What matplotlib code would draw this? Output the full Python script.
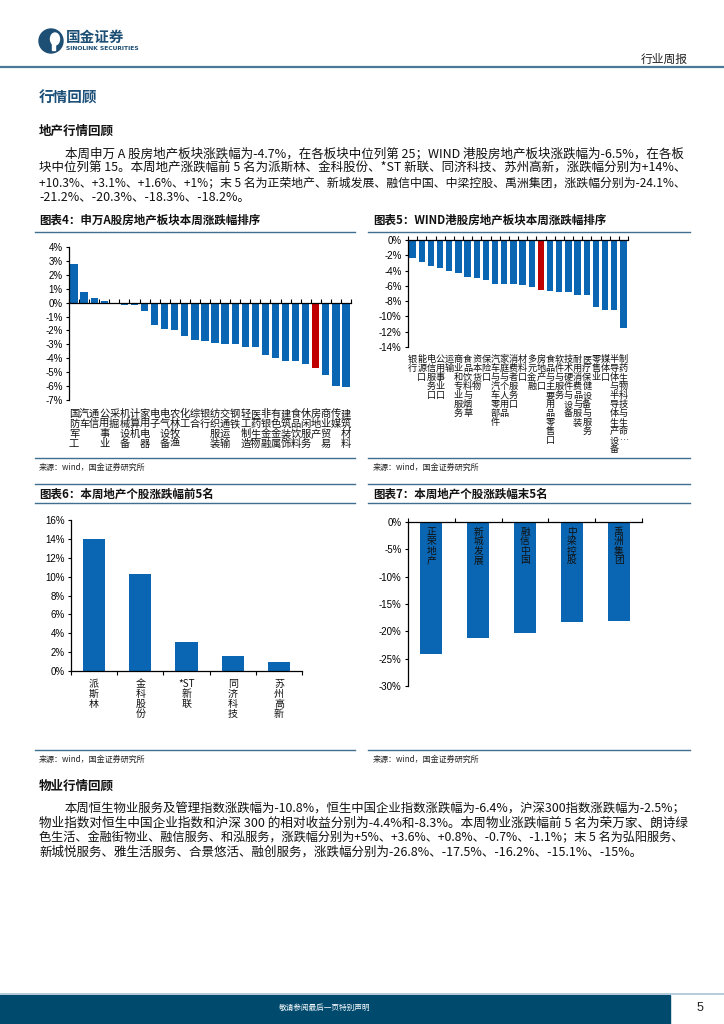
import matplotlib
matplotlib.use("Agg")
import matplotlib.pyplot as plt
import matplotlib.transforms as mtrans
from matplotlib.lines import Line2D
from matplotlib.patches import Rectangle, Ellipse

plt.rcParams['font.family'] = ['Noto Sans CJK SC', 'DejaVu Sans']

# ---- data ----
sw_names = ['国防军工', '汽车', '通信', '公用事业', '采掘', '机械设备', '计算机', '家用电器',
            '电子', '电气设备', '农林牧渔', '化工', '综合', '银行', '纺织服装', '交通运输',
            '钢铁', '轻工制造', '医药生物', '非银金融', '有色金属', '建筑装饰', '食品饮料',
            '休闲服务', '房地产', '商业贸易', '传媒', '建筑材料']
sw_values = [2.8, 0.8, 0.3, 0.15, 0.0, -0.15, -0.2, -0.6, -1.6, -1.9, -2.0, -2.4, -2.7,
             -2.75, -2.9, -3.0, -3.0, -3.2, -3.2, -3.8, -4.0, -4.2, -4.2, -4.4, -4.7,
             -5.2, -6.0, -6.1]

hk_names = ['银行', '能源口', '电信服务口', '公用事业口', '运输', '商业和专业服务',
            '食品饮料与烟草', '资本货物', '保险口', '汽车与汽车零部件', '家庭与个人用品',
            '消费者服务口', '材料口', '多元金融', '房地产口', '食品与主要用品零售口',
            '软件与服务', '技术硬件与设备', '耐用消费品与服装', '医疗保健设备与服务',
            '零售业', '媒体口', '半导体与半导体生产设备', '制药生物科技与生命…']
hk_values = [-2.4, -2.9, -3.4, -3.7, -4.1, -4.3, -4.8, -5.0, -5.2, -5.8, -5.8, -5.8,
             -5.9, -6.1, -6.5, -6.7, -6.8, -6.8, -7.2, -7.2, -8.8, -9.1, -9.1, -11.5]

top_names = ['派斯林', '金科股份', '*ST新联', '同济科技', '苏州高新']
top_values = [14.0, 10.3, 3.1, 1.6, 1.0]

bottom_names = ['正荣地产', '新城发展', '融信中国', '中梁控股', '禹洲集团']
bottom_values = [-24.1, -21.2, -20.3, -18.3, -18.2]

para1 = ['本周申万 A 股房地产板块涨跌幅为-4.7%，在各板块中位列第 25；WIND 港股房地产板块涨跌幅为-6.5%，在各板',
         '块中位列第 15。本周地产涨跌幅前 5 名为派斯林、金科股份、*ST 新联、同济科技、苏州高新，涨跌幅分别为+14%、',
         '+10.3%、+3.1%、+1.6%、+1%；末 5 名为正荣地产、新城发展、融信中国、中梁控股、禹洲集团，涨跌幅分别为-24.1%、',
         '-21.2%、-20.3%、-18.3%、-18.2%。']
para2 = ['本周恒生物业服务及管理指数涨跌幅为-10.8%，恒生中国企业指数涨跌幅为-6.4%，沪深300指数涨跌幅为-2.5%；',
         '物业指数对恒生中国企业指数和沪深 300 的相对收益分别为-4.4%和-8.3%。本周物业涨跌幅前 5 名为荣万家、朗诗绿',
         '色生活、金融街物业、融信服务、和泓服务，涨跌幅分别为+5%、+3.6%、+0.8%、-0.7%、-1.1%；末 5 名为弘阳服务、',
         '新城悦服务、雅生活服务、合景悠活、融创服务，涨跌幅分别为-26.8%、-17.5%、-16.2%、-15.1%、-15%。']

BLUE = '#0a66b2'
RED = '#c00000'
NAVY = '#1d4e74'
LINE = '#3f6f8f'

W, H = 724, 1024
fig = plt.figure(figsize=(W / 100, H / 100), dpi=100)


def fx(x):
    return x / W


def fy(y):
    return 1 - y / H


def rect(x0, y0, x1, y1):
    return [x0 / W, 1 - y1 / H, (x1 - x0) / W, (y1 - y0) / H]


def hline(x0, x1, y, color=LINE, lw=1.0):
    fig.add_artist(Line2D([fx(x0), fx(x1)], [fy(y), fy(y)], transform=fig.transFigure,
                          color=color, lw=lw))


def txt(x, y, s, **kw):
    kw.setdefault('va', 'center')
    return fig.text(fx(x), fy(y), s, **kw)


def vert(s):
    out, buf = [], ''
    for ch in s:
        if ord(ch) < 128:
            buf += ch
        else:
            if buf:
                out.append(buf)
                buf = ''
            out.append(ch)
    if buf:
        out.append(buf)
    return '\n'.join(out)


def panel(box, names, values, ylim, yticks, tickdir, lab_y, lab_fs, lab_ls,
          width, red=None):
    ax = fig.add_axes(rect(*box))
    n = len(values)
    cols = [RED if i == red else BLUE for i in range(n)]
    ax.bar(range(n), values, width, color=cols, zorder=2)
    ax.set_xlim(-0.5, n - 0.5)
    ax.set_ylim(*ylim)
    ax.set_yticks(yticks)
    ax.set_yticklabels(['%d%%' % v for v in yticks], family='Liberation Sans', fontsize=7)
    for s in ['top', 'right']:
        ax.spines[s].set_visible(False)
    ax.spines['bottom'].set_position(('data', 0))
    ax.spines['bottom'].set_zorder(3)
    ax.spines['left'].set_linewidth(0.9)
    ax.spines['bottom'].set_linewidth(0.9)
    ax.set_xticks([i - 0.5 for i in range(n + 1)])
    ax.set_xticklabels([])
    ax.tick_params(axis='x', direction=tickdir, length=3, width=0.8)
    ax.tick_params(axis='y', direction='out', length=2.5, width=0.8, pad=2)
    ax.patch.set_alpha(0)
    tr = mtrans.blended_transform_factory(ax.transData, fig.transFigure)
    for i, nm in enumerate(names):
        ax.text(i, fy(lab_y), vert(nm), transform=tr, ha='center', va='top',
                fontsize=lab_fs, linespacing=lab_ls, color='#111111')
    return ax


# ---- header ----
fig.add_artist(Ellipse((fx(51), fy(41)), 24 / W, 24 / H, transform=fig.transFigure,
                       color=NAVY))
fig.add_artist(Ellipse((fx(55), fy(39)), 9 / W, 12 / H, transform=fig.transFigure,
                       color='white'))
fig.add_artist(Rectangle((fx(52), fy(50)), 3 / W, 8 / H, transform=fig.transFigure,
                         color='white'))
txt(66, 37, '国金证券', fontsize=10.5, weight='bold', color=NAVY)
txt(66, 48, 'SINOLINK SECURITIES', fontsize=4.3, weight='bold', color=NAVY,
    family='DejaVu Sans')
txt(688, 59, '行业周报', fontsize=8.5, ha='right', color='#222222')
hline(0, W, 67, color='#4a7898', lw=1.6)

txt(39, 98, '行情回顾', fontsize=10.5, weight='bold', color='#1b4f78')
txt(39, 131, '地产行情回顾', fontsize=9, weight='bold', color='#111111')

# body paragraphs, stretched to the text width line by line
renderer = fig.canvas.get_renderer()


def paragraph(lines, ys):
    for k, (s, y) in enumerate(zip(lines, ys)):
        x0 = 65 if k == 0 else 39
        t = txt(x0, y, s, fontsize=9, color='#111111')
        if k < len(lines) - 1:
            w = t.get_window_extent(renderer).width
            t.set_fontsize(9 * (686 - x0) / w)


paragraph(para1, [154, 168, 183, 197])
txt(39, 786, '物业行情回顾', fontsize=9, weight='bold', color='#111111')
paragraph(para2, [809, 823, 838, 852])

# ---- chart frames ----
txt(39, 220, '图表4：申万A股房地产板块本周涨跌幅排序', fontsize=8.3, weight='bold',
    color='#111111')
txt(373, 220, '图表5：WIND港股房地产板块本周涨跌幅排序', fontsize=8.3, weight='bold',
    color='#111111')
hline(35, 355, 232)
hline(368, 690, 232)
hline(35, 355, 458)
hline(368, 690, 458)
txt(39, 467, '来源：wind，国金证券研究所', fontsize=5.8, color='#222222')
txt(373, 467, '来源：wind，国金证券研究所', fontsize=5.8, color='#222222')

hline(35, 355, 484)
hline(368, 690, 484)
txt(39, 494, '图表6：本周地产个股涨跌幅前5名', fontsize=8.3, weight='bold',
    color='#111111')
txt(373, 494, '图表7：本周地产个股涨跌幅末5名', fontsize=8.3, weight='bold',
    color='#111111')
hline(35, 355, 503)
hline(368, 690, 503)
hline(35, 355, 750)
hline(368, 690, 750)
txt(39, 759, '来源：wind，国金证券研究所', fontsize=5.8, color='#222222')
txt(373, 759, '来源：wind，国金证券研究所', fontsize=5.8, color='#222222')

# ---- charts ----
panel((69, 247, 351, 400), sw_names, sw_values, (-7, 4), list(range(-7, 5)), 'in',
      409, 7.4, 1.0, 0.72, red=sw_names.index('房地产'))
panel((408, 240, 628, 347), hk_names, hk_values, (-14, 0), list(range(-14, 1, 2)), 'in',
      355, 6.6, 1.0, 0.7, red=hk_names.index('房地产口'))
panel((71, 520, 302, 671), top_names, top_values, (0, 16), list(range(0, 17, 2)), 'out',
      679, 7.2, 0.98, 0.48)
ax7 = panel((408, 522, 642, 686), [], bottom_values, (-30, 0), list(range(-30, 1, 5)),
            'in', 0, 7, 0.95, 0.47)
for i, nm in enumerate(bottom_names):
    ax7.text(i, -0.9, vert(nm), ha='center', va='top', fontsize=7, linespacing=0.92,
             color='#111111', zorder=4)

# ---- footer ----
hline(0, W, 994, color='#a9c4d6', lw=1.2)
fig.add_artist(Rectangle((0, 0), fx(670), fy(995), transform=fig.transFigure,
                         color='#004a6e'))
txt(325, 1008, '敬请参阅最后一页特别声明', fontsize=5.5, color='white', ha='center')
txt(700, 1008, '5', fontsize=9, color='#222222', ha='center', family='Liberation Sans')

fig.savefig('out.png', dpi=100)
